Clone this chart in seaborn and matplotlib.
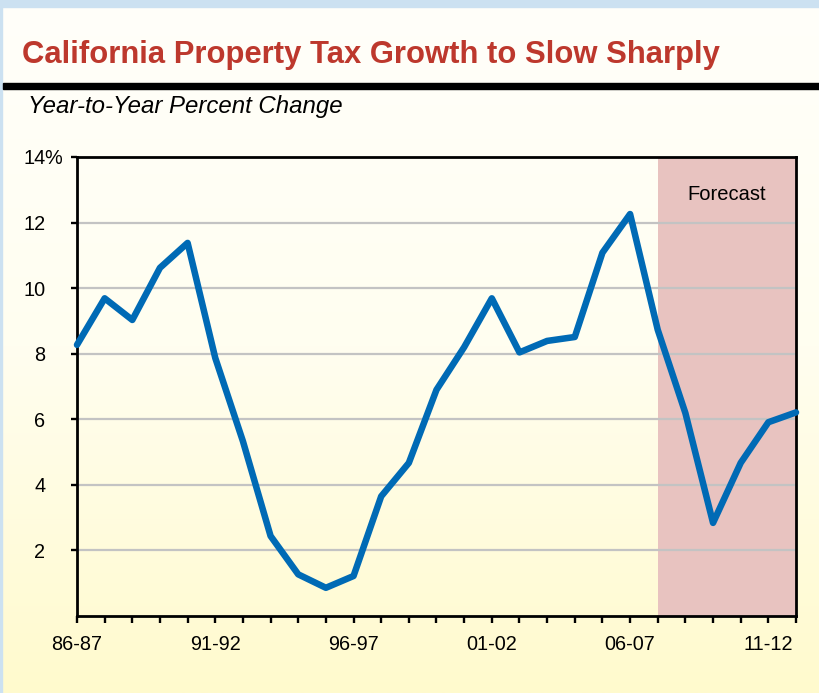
import numpy as np
import pandas as pd
import matplotlib
matplotlib.use("Agg")
import matplotlib.pyplot as plt
from matplotlib.patches import Rectangle
import matplotlib.colors as mcolors
import seaborn as sns

# ---- data ----
years = ["86-87", "87-88", "88-89", "89-90", "90-91", "91-92", "92-93", "93-94",
         "94-95", "95-96", "96-97", "97-98", "98-99", "99-00", "00-01", "01-02",
         "02-03", "03-04", "04-05", "05-06", "06-07", "07-08", "08-09", "09-10",
         "10-11", "11-12", "12-13"]
pct_change = [8.27, 9.69, 9.03, 10.62, 11.38, 7.87, 5.33, 2.44, 1.27, 0.86,
              1.22, 3.65, 4.67, 6.90, 8.2, 9.69, 8.04, 8.39, 8.51, 11.08,
              12.26, 8.73, 6.19, 2.84, 4.67, 5.91, 6.21]
labeled_years = ["86-87", "91-92", "96-97", "01-02", "06-07", "11-12"]
y_ticks = [2, 4, 6, 8, 10, 12, 14]
forecast_start = "07-08"
forecast_end = "12-13"

title = "California Property Tax Growth to Slow Sharply"
subtitle = "Year-to-Year Percent Change"

df = pd.DataFrame({"idx": np.arange(len(years)), "year": years, "pct": pct_change})

sns.set_theme(style="ticks")
plt.rcParams["font.family"] = ["Liberation Sans", "DejaVu Sans"]

W, H = 820, 693
fig = plt.figure(figsize=(W / 100, H / 100), dpi=100)

# background gradient
bg = fig.add_axes([0, 0, 1, 1], zorder=-10)
cmap = mcolors.LinearSegmentedColormap.from_list("bg", ["#FFFFFA", "#FFFEF0", "#FFFACD"])
grad = np.linspace(0, 1, 256).reshape(-1, 1)
bg.imshow(grad, aspect="auto", cmap=cmap, extent=[0, 1, 0, 1], origin="upper")
bg.set_axis_off()

# frame decorations (blue border, black rule)
blue = "#CCE1F1"
fig.patches.append(Rectangle((0, 1 - 7 / H), 1, 7 / H, transform=fig.transFigure,
                             color=blue, zorder=-5))
fig.patches.append(Rectangle((0, 0), 2.5 / W, 1, transform=fig.transFigure,
                             color=blue, zorder=-5))
fig.patches.append(Rectangle((3 / W, 1 - 88.5 / H), 1, 5.5 / H, transform=fig.transFigure,
                             color="black", zorder=-4))

fig.text(22 / W, 1 - 63 / H, title, fontsize=22.3, fontweight="bold",
         color="#BD382D", va="baseline", ha="left")
fig.text(28 / W, 1 - 113 / H, subtitle, fontsize=17.3, style="italic",
         color="black", va="baseline", ha="left")

ax = fig.add_axes([77 / W, (H - 616) / H, (796 - 77) / W, (616 - 157) / H])
ax.set_facecolor("none")

i0 = years.index(forecast_start)
i1 = years.index(forecast_end)
ax.axvspan(i0, i1 + 0.3, color="#E8C3C0", zorder=0, lw=0)

for yv in y_ticks[:-1]:
    ax.axhline(yv, color="#C3C3C3", lw=1.6, zorder=1)

sns.lineplot(data=df, x="idx", y="pct", ax=ax, color="#006AB5", lw=4.7,
             zorder=3, clip_on=False)

ax.set_xlim(0, len(years) - 1)
ax.set_ylim(0, 14)
ax.set_xticks(df["idx"])
ax.set_xticklabels([y if y in labeled_years else "" for y in years])
ax.set_yticks(y_ticks)
ax.set_yticklabels([str(v) for v in y_ticks])
ax.set_xlabel("")
ax.set_ylabel("")

for s in ax.spines.values():
    s.set_visible(True)
    s.set_color("black")
    s.set_linewidth(2.0)

ax.tick_params(axis="x", direction="out", length=5, width=1.7, pad=8.5,
               labelsize=14.3, colors="black")
ax.tick_params(axis="y", direction="out", length=4.3, width=1.7, pad=18.5,
               labelsize=14.3, colors="black")
ax.grid(False)

# percent sign after the top tick label
ax.annotate("%", xy=(0, 14), xycoords=("axes fraction", "data"),
            xytext=(-23.5, 0), textcoords="offset points",
            ha="left", va="center_baseline", fontsize=14.3, color="black")

ax.text((i0 + i1) / 2, 0.906, "Forecast", transform=ax.get_xaxis_transform(),
        ha="center", va="baseline", fontsize=14.5, color="black", zorder=4)

fig.savefig("out.png", dpi=100)
